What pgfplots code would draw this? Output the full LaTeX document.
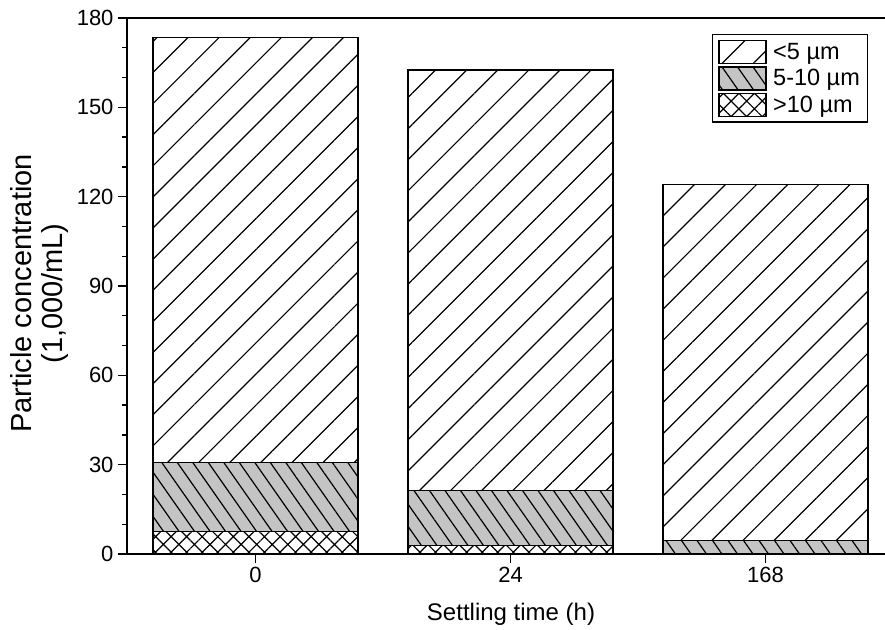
\documentclass[border=0pt]{standalone}
\usepackage{fontspec}
\setmainfont{Liberation Sans}
\usepackage{pgfplots}
\pgfplotsset{compat=1.18}
\usetikzlibrary{patterns.meta}
\definecolor{mygrey}{RGB}{196,196,196}
\pgfplotstableread{
x  big  mid  small
0  7.5  23.2 142.7
1  2.8  18.5 141.2
2  0.0  4.5  119.5
}\datatable
\begin{document}
\begin{tikzpicture}
\useasboundingbox (0,0) rectangle (885bp,630bp);
\begin{axis}[
  at={(127bp,76bp)}, anchor=south west,
  scale only axis, width=758bp, height=536bp,
  ybar stacked, bar width=205bp,
  xmin=-0.504, xmax=2.4686, ymin=0, ymax=180,
  axis y line*=left, axis x line*=box,
  xtick={0,1,2}, xticklabels={0,24,168}, xtick pos=bottom,
  ytick={0,30,...,180}, ytick pos=left, minor y tick num=2,
  tick align=outside, major tick length=9bp, minor tick length=5bp,
  every tick/.style={black, line width=1.3bp},
  axis line style={line width=1.5bp},
  /pgf/number format/assume math mode=true,
  tick label style={font=\fontsize{22bp}{25bp}\selectfont},
  yticklabel style={xshift=-1bp},
  xticklabel style={yshift=-1bp},
  label style={font=\fontsize{24bp}{30bp}\selectfont},
  xlabel={Settling time (h)},
  xlabel style={at={(axis description cs:0.5066,-0.112)}, anchor=center},
  ylabel={Particle concentration\\(1,000/mL)},
  ylabel style={at={(axis description cs:-0.1148,0.486)}, anchor=center, align=center, font=\fontsize{29bp}{31bp}\selectfont},
  reverse legend,
  legend cell align=left,
  legend style={at={(0.9776,0.970)}, anchor=north east, draw=black, line width=1.3bp,
    font=\fontsize{23.5bp}{26bp}\selectfont, inner xsep=6bp, inner ysep=5bp, row sep=2bp, column sep=5bp,
    nodes={inner sep=1.5bp}},
  mylegend/.style={legend image code/.code={\draw[##1] (0bp,-11.5bp) rectangle (47bp,11.5bp);}},
]
\addplot[draw=black, line width=1.4bp, fill=white, postaction={pattern={Hatch[angle=45,distance=11bp,line width=1.2bp]}}, mylegend] table[x=x,y=big]{\datatable};
\addplot[draw=black, line width=1.4bp, fill=mygrey, postaction={pattern={Lines[angle=125,distance=12.7bp,line width=1.2bp]}}, mylegend] table[x=x,y=mid]{\datatable};
\addplot[draw=black, line width=1.4bp, fill=white, postaction={pattern={Lines[angle=45,distance=22bp,line width=1.2bp]}}, mylegend] table[x=x,y=small]{\datatable};
\legend{>10 µm, 5-10 µm, <5 µm}
\end{axis}
\end{tikzpicture}
\end{document}
